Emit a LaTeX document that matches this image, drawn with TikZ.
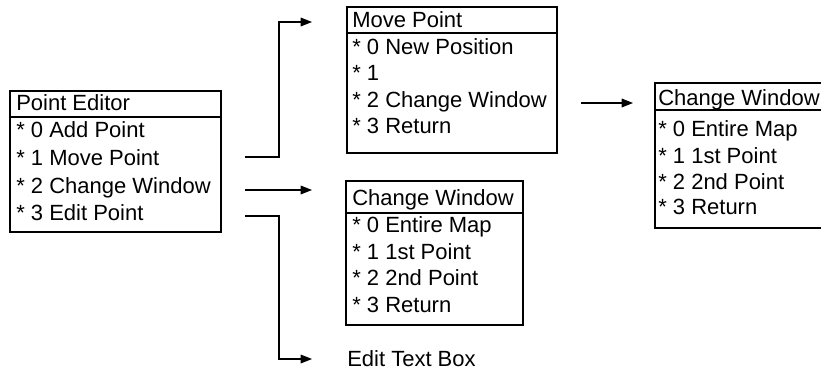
\documentclass[tikz,border=0pt]{standalone}
\usepackage{fontspec}
\setmainfont{Liberation Sans}
\usetikzlibrary{arrows.meta,fit}
\begin{document}
\begin{tikzpicture}[x=0.75pt,y=-0.75pt,
  font=\fontsize{16.5pt}{19pt}\selectfont,
  box/.style={draw,line width=0.8pt,inner sep=0pt},
  sep/.style={line width=1.6pt},
  entry/.style={anchor=west,inner sep=0pt,text height=11.8pt,text depth=0pt},
  arr/.style={line width=0.8pt,-{Triangle[length=8.5pt,width=6.5pt]}}]
\useasboundingbox (0,0) rectangle (821,371);
\fill[white] (0,0) rectangle (821,371);
\clip (0,0) rectangle (821,371);

% Point Editor menu
\node[box,fit={(10,91) (221,232)}] (pe) {};
\draw[sep] (10,117) -- (221,117);
\node[entry] (peh) at (16,103) {Point Editor};
\node[entry] (pe0) at (16,130) {* 0 Add Point};
\node[entry] (pe1) at (16,158) {* 1 Move Point};
\node[entry] (pe2) at (16,186) {* 2 Change Window};
\node[entry] (pe3) at (16,213) {* 3 Edit Point};

% Move Point menu
\node[box,fit={(347,7) (557,153)}] (mp) {};
\draw[sep] (347,33) -- (557,33);
\node[entry] (mph) at (352,20) {Move Point};
\node[entry] (mp0) at (352,47) {* 0 New Position};
\node[entry] (mp1) at (352,73) {* 1};
\node[entry] (mp2) at (352,100) {* 2 Change Window};
\node[entry] (mp3) at (352,126) {* 3 Return};

% Change Window menu (from Point Editor)
\node[box,fit={(346,181) (523,325)}] (cw) {};
\draw[sep] (346,213) -- (523,213);
\node[entry] (cwh) at (352,198) {Change Window};
\node[entry] (cw0) at (352,225) {* 0 Entire Map};
\node[entry] (cw1) at (352,252) {* 1 1st Point};
\node[entry] (cw2) at (352,278) {* 2 2nd Point};
\node[entry] (cw3) at (352,305) {* 3 Return};

% Change Window menu (from Move Point)
\node[box,fit={(655,83) (830,228)}] (cwr) {};
\draw[sep] (655,110) -- (830,110);
\node[entry] (cwrh) at (658,98) {Change Window};
\node[entry] (cwr0) at (658,129) {* 0 Entire Map};
\node[entry] (cwr1) at (658,156) {* 1 1st Point};
\node[entry] (cwr2) at (658,182) {* 2 2nd Point};
\node[entry] (cwr3) at (658,207) {* 3 Return};

% Edit Text Box target
\node[entry] (etb) at (347,359) {Edit Text Box};

% connector ends
\coordinate (s1) at (245,157);
\coordinate (s2) at (245,190);
\coordinate (s3) at (245,216);
\coordinate (k1) at (279,0);
\coordinate (e1) at (312,22);
\coordinate (e2) at (312,190);
\coordinate (e3) at (312,359);
\coordinate (s4) at (581,103);
\coordinate (e4) at (633,103);

\draw[arr] (s1) -| (k1 |- e1) -- (e1);
\draw[arr] (s2) -- (e2);
\draw[arr] (s3) -| (k1 |- e3) -- (e3);
\draw[arr] (s4) -- (e4);
\end{tikzpicture}
\end{document}
